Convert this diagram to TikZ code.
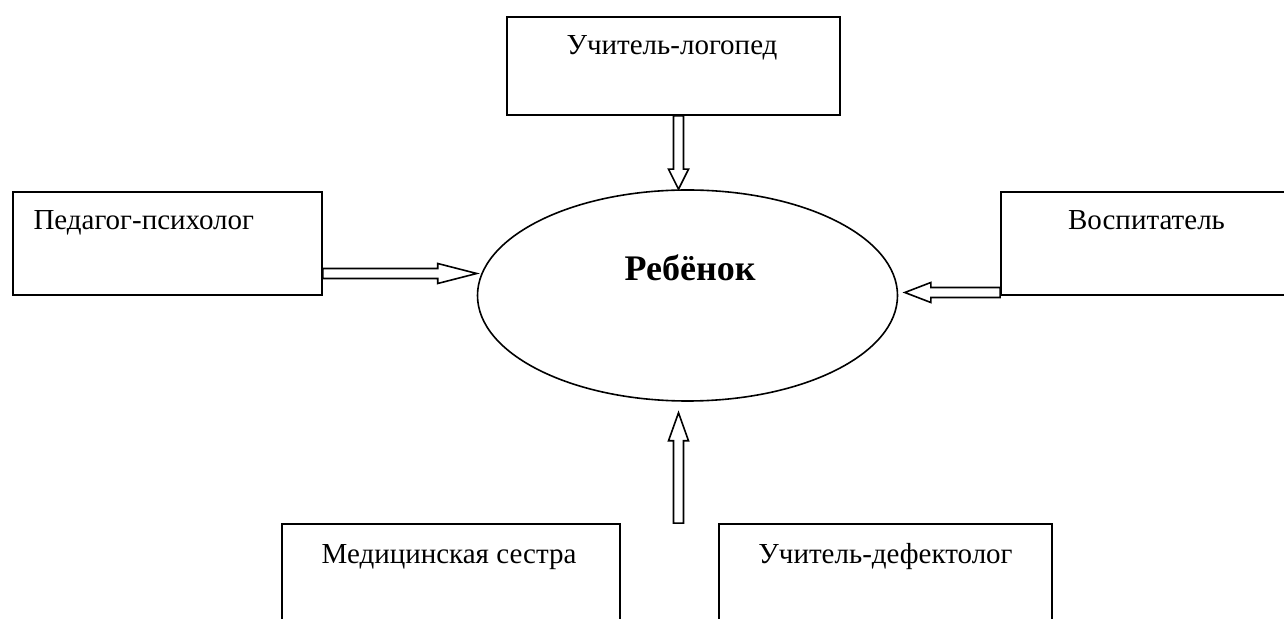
\documentclass[tikz,border=0pt]{standalone}
\usepackage{fontspec}
\setmainfont{Liberation Serif}
\usetikzlibrary{calc,positioning,shapes.geometric}

\begin{document}
\begin{tikzpicture}[
			x=0.5pt, y=-0.5pt,
			box/.style={
				rectangle,
				draw=black,
				line width=0.9pt,
				inner sep=0pt,
				minimum height=51.5pt
			},
			caption/.style={
				inner sep=0pt,
				font=\fontsize{14.5pt}{17pt}\selectfont
			},
			hollow/.style={
				draw=black,
				fill=white,
				line width=0.8pt,
				line join=miter,
				to path={
					($(\tikztotarget)!#1!(\tikztostart)$) coordinate (hb)
					($(\tikztostart)!2.5pt!90:(\tikztotarget)$)
					-- ($(hb)!2.5pt!90:(\tikztotarget)$)
					-- ($(hb)!5pt!90:(\tikztotarget)$)
					-- (\tikztotarget)
					-- ($(hb)!5pt!-90:(\tikztotarget)$)
					-- ($(hb)!2.5pt!-90:(\tikztotarget)$)
					-- ($(\tikztostart)!2.5pt!-90:(\tikztotarget)$)
					-- cycle
				}
			}
			]
			\useasboundingbox (0,0) rectangle (1284,619);
			\clip (0,0) rectangle (1284,619);
			
			% центр
			\node[ellipse, draw=black, line width=0.8pt, inner sep=0pt,
				minimum width=210pt, minimum height=105.5pt] (child) at (687.5,295.5) {};
			\node[inner sep=0pt, anchor=base, font=\fontsize{18pt}{21pt}\selectfont\bfseries]
				(childtext) at ($(child.center)+(2.5,-14.5)$) {Ребёнок};
			
			% блоки
			\node[box, minimum width=166.5pt, minimum height=49pt] (logoped) at (673.5,66) {};
			\node[box, minimum width=154.5pt] (psych) at (167.5,243.5) {};
			\node[box, minimum width=145.5pt] (vosp) at (1146.5,243.5) {};
			\node[box, minimum width=169pt] (medsis) at (451,575.5) {};
			\node[box, minimum width=166.5pt] (defect) at (885.5,575.5) {};
			
			% подписи
			\node[caption, anchor=base] (logopedtext) at ($(logoped.north)+(-1.5,38)$) {Учитель-логопед};
			\node[caption, anchor=base west] (psychtext) at ($(psych.north west)+(21,38)$) {Педагог-психолог};
			\node[caption, anchor=base] (vosptext) at ($(vosp.north)+(0,38)$) {Воспитатель};
			\node[caption, anchor=base] (medsistext) at ($(medsis.north)+(-2,40)$) {Медицинская сестра};
			\node[caption, anchor=base] (defecttext) at ($(defect.north)+(0,40)$) {Учитель-дефектолог};
			
			% точки стрелок
			\coordinate (lgout) at ($(logoped.south)+(5,0)$);
			\coordinate (lgin) at (lgout |- child.north);
			\coordinate (psout) at ($(psych.east)+(0,30)$);
			\coordinate (psin) at (child.west |- psout);
			\coordinate (vsout) at ($(vosp.west)+(0,49)$);
			\coordinate (vsin) at ($(child.east |- vsout)+(6.5,0)$);
			\coordinate (mdout) at (lgout |- medsis.north);
			\coordinate (mdin) at ($(lgout |- child.south)+(0,11)$);
			
			% стрелки
			\draw[hollow=10pt] (lgout) to (lgin);
			\draw[hollow=19.5pt] (psout) to (psin);
			\draw[hollow=13pt] (vsout) to (vsin);
			\draw[hollow=14pt] (mdout) to (mdin);
		\end{tikzpicture}
\end{document}
